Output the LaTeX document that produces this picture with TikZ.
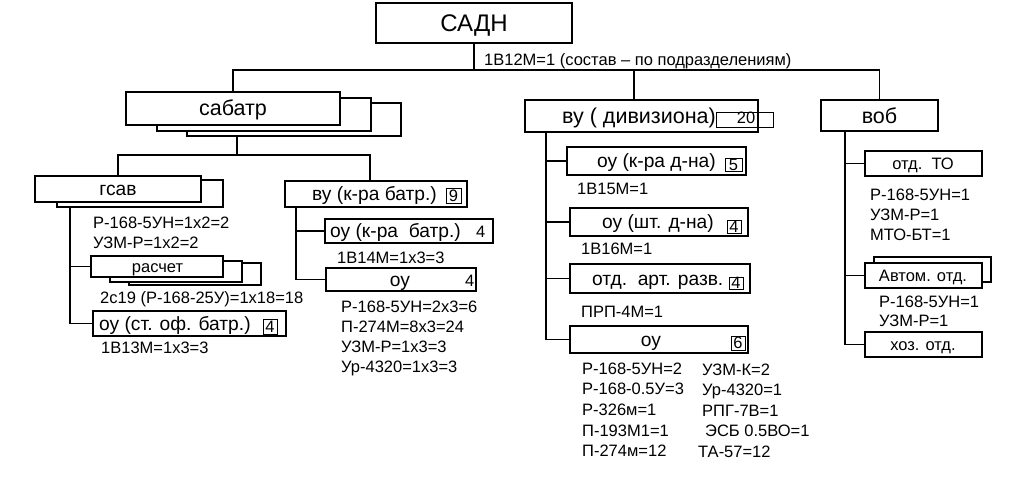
\documentclass[tikz,border=0pt]{standalone}
\usepackage{fontspec}
\setmainfont{Liberation Sans}
\begin{document}
\begin{tikzpicture}[x=1pt,y=-1pt,
  bx/.style={draw, line width=1.3pt, fill=white, inner sep=0pt},
  dbox/.style={draw, line width=0.9pt, inner sep=0pt, font=\fontsize{16.5}{17}\selectfont},
  conn/.style={line width=1.3pt},
  fA/.style={font=\fontsize{16.5}{19}\selectfont},
  fB/.style={font=\fontsize{19.2}{21}\selectfont},
  fC/.style={font=\fontsize{21.5}{24}\selectfont},
  fD/.style={font=\fontsize{24}{27}\selectfont},
  tl/.style={anchor=base west, inner sep=0pt},
  tc/.style={anchor=base, inner sep=0pt}]
\useasboundingbox[fill=white] (0,0) rectangle (1032,484);

% ---------- boxes ----------
\node[bx, minimum width=196, minimum height=40] (sadn) at (474,23) {};
\node[bx, minimum width=214, minimum height=33] (sab3) at (294,119.5) {};
\node[bx, minimum width=214, minimum height=33] (sab2) at (264,114.5) {};
\node[bx, minimum width=214, minimum height=33] (sab1) at (233,108.5) {};
\node[bx, minimum width=166, minimum height=27] (gsav2) at (140,193.5) {};
\node[bx, minimum width=166, minimum height=26] (gsav) at (118,189) {};
\node[bx, minimum width=132, minimum height=22] (rasch3) at (195,274) {};
\node[bx, minimum width=132, minimum height=21] (rasch2) at (176,271.5) {};
\node[bx, minimum width=132, minimum height=21] (rasch) at (157,266.5) {};
\node[bx, minimum width=193, minimum height=25] (ouso) at (189.5,323.5) {};
\node[bx, minimum width=182, minimum height=26] (vkb) at (376,194) {};
\node[bx, minimum width=168, minimum height=24] (okb) at (409,231) {};
\node[bx, minimum width=150, minimum height=23] (oub) at (401,279.5) {};
\node[bx, minimum width=233, minimum height=32] (div) at (641.5,116) {};
\node[bx, minimum width=179, minimum height=28] (okd) at (656.5,161) {};
\node[bx, minimum width=178, minimum height=28] (osd) at (659,222) {};
\node[bx, minimum width=180, minimum height=29] (oar) at (660,278.5) {};
\node[bx, minimum width=178, minimum height=27] (oud) at (659,339.5) {};
\node[bx, minimum width=117, minimum height=31] (vob) at (879.5,115.5) {};
\node[bx, minimum width=117, minimum height=25] (oto) at (923.5,163.5) {};
\node[bx, minimum width=117, minimum height=25] (avt2) at (932.5,269.5) {};
\node[bx, minimum width=117, minimum height=25] (avt) at (923.5,275.5) {};
\node[bx, minimum width=117, minimum height=25] (hoz) at (923.5,344.5) {};

% ---------- connectors ----------
\coordinate (bus) at (0,70);
\draw[conn] (sadn.south) -- (sadn.south |- bus);
\draw[conn] (sab1.north) |- (vob.north |- bus) -- (vob.north);
\draw[conn] ([xshift=-7.5]div.north |- bus) -- ([xshift=-7.5]div.north);

\coordinate (sj) at (237,155);
\draw[conn] (sj |- sab3.south) -- (sj);
\draw[conn] (gsav.north) |- (sj);
\draw[conn] ([xshift=-6]vkb.north) |- (sj);

\coordinate (gj) at (70,0);
\draw[conn] (gj |- gsav2.south) |- (ouso.west);
\draw[conn] (gj |- rasch.west) -- (rasch.west);

\coordinate (vj) at (296,0);
\draw[conn] (vj |- vkb.south) |- (oub.west);
\draw[conn] (vj |- okb.west) -- (okb.west);

\coordinate (dj) at (546,0);
\draw[conn] (dj |- div.south) |- (oud.west);
\draw[conn] (dj |- okd.west) -- (okd.west);
\draw[conn] (dj |- osd.west) -- (osd.west);
\draw[conn] (dj |- oar.west) -- (oar.west);

\coordinate (wj) at (845,0);
\draw[conn] (wj |- vob.south) |- (hoz.west);
\draw[conn] (wj |- oto.west) -- (oto.west);
\draw[conn] (wj |- avt.west) -- (avt.west);

% ---------- number boxes ----------
\node[dbox, minimum width=14, minimum height=15] (ouso-n) at (270,326.5) {4};
\node[dbox, minimum width=15, minimum height=15] (vkb-n) at (453.5,195.5) {9};
\node[dbox, minimum width=17, minimum height=13] (okd-n) at (733.5,164.5) {5};
\node[dbox, minimum width=14, minimum height=13] (osd-n) at (734,226.5) {4};
\node[dbox, minimum width=14, minimum height=12] (oar-n) at (736,283) {4};
\node[dbox, minimum width=14, minimum height=14] (oud-n) at (738,343) {6};
\node[dbox, minimum width=57, minimum height=15] (div-n) at (744.5,119.5) {};

% ---------- box labels ----------
\node[tc, fD] (sadn-t) at (474,31.6) {САДН};
\node[tc, fC] (sab-t) at (233,115.5) {сабатр};
\node[tc, fB] (gsav-t) at (118,195.5) {гсав};
\node[tc, fA] (rasch-t) at (157.5,272.4) {расчет};
\node[tl, fB] (ouso-t) at (99,330) {оу (ст. оф. батр.)};
\node[tl, fB] (vkb-t) at (312,200.8) {ву (к-ра батр.)};
\node[tl, fB] (okb-t) at (330,237.8) {оу (к-ра\ \ батр.)};
\node[tl, fA] (okb-n) at (476,237.8) {4};
\node[tc, fB] (oub-t) at (400,286.3) {оу};
\node[tl, fA] (oub-n) at (465,286.3) {4};
\node[tl, fC] (div-t) at (562,123.5) {ву (\ дивизиона)};
\node[tc, fA] (div-nt) at (746,123.3) {20};
\node[tl, fB] (okd-t) at (597,167.8) {оу (к-ра д-на)};
\node[tl, fB] (osd-t) at (602,228.8) {оу (шт. д-на)};
\node[tl, fB] (oar-t) at (592,285.3) {отд.\ \ арт. разв.};
\node[tc, fB] (oud-t) at (651,346.5) {оу};
\node[tc, fC] (vob-t) at (879.5,123.4) {воб};
\node[tc, fA] (oto-t) at (923,169.4) {отд.\ \ ТО};
\node[tc, fA] (avt-t) at (923,281.4) {Автом. отд.};
\node[tc, fA] (hoz-t) at (923,350.4) {хоз. отд.};

% ---------- free texts ----------
\node[tl, fA] (t0) at (484,66) {1В12М=1 (состав – по подразделениям)};
\node[tl, fA] (g1) at (93,228.3) {Р-168-5УН=1х2=2};
\node[tl, fA] (g2) at (93,248) {УЗМ-Р=1х2=2};
\node[tl, fA] (g3) at (100,303.5) {2с19 (Р-168-25У)=1х18=18};
\node[tl, fA] (g4) at (101,353) {1В13М=1х3=3};
\node[tl, fA] (b1) at (337,263) {1В14М=1х3=3};
\node[tl, fA] (b2) at (341,312.5) {Р-168-5УН=2х3=6};
\node[tl, fA] (b3) at (341,332.5) {П-274М=8х3=24};
\node[tl, fA] (b4) at (341,352.5) {УЗМ-Р=1х3=3};
\node[tl, fA] (b5) at (341,372.5) {Ур-4320=1х3=3};
\node[tl, fA] (d1) at (577,194) {1В15М=1};
\node[tl, fA] (d2) at (581,254) {1В16М=1};
\node[tl, fA] (d3) at (581,317) {ПРП-4М=1};
\node[tl, fA] (u1) at (582,374) {Р-168-5УН=2};
\node[tl, fA] (u2) at (582,394) {Р-168-0.5У=3};
\node[tl, fA] (u3) at (582,415) {Р-326м=1};
\node[tl, fA] (u4) at (582,436) {П-193М1=1};
\node[tl, fA] (u5) at (582,456) {П-274м=12};
\node[tl, fA] (v1) at (702,375) {УЗМ-К=2};
\node[tl, fA] (v2) at (702,395) {Ур-4320=1};
\node[tl, fA] (v3) at (702,416) {РПГ-7В=1};
\node[tl, fA] (v4) at (705,436) {ЭСБ 0.5ВО=1};
\node[tl, fA] (v5) at (698,457) {ТА-57=12};
\node[tl, fA] (w1) at (870,200) {Р-168-5УН=1};
\node[tl, fA] (w2) at (870,220) {УЗМ-Р=1};
\node[tl, fA] (w3) at (870,240) {МТО-БТ=1};
\node[tl, fA] (w4) at (879,307.5) {Р-168-5УН=1};
\node[tl, fA] (w5) at (879,326) {УЗМ-Р=1};
\end{tikzpicture}
\end{document}
